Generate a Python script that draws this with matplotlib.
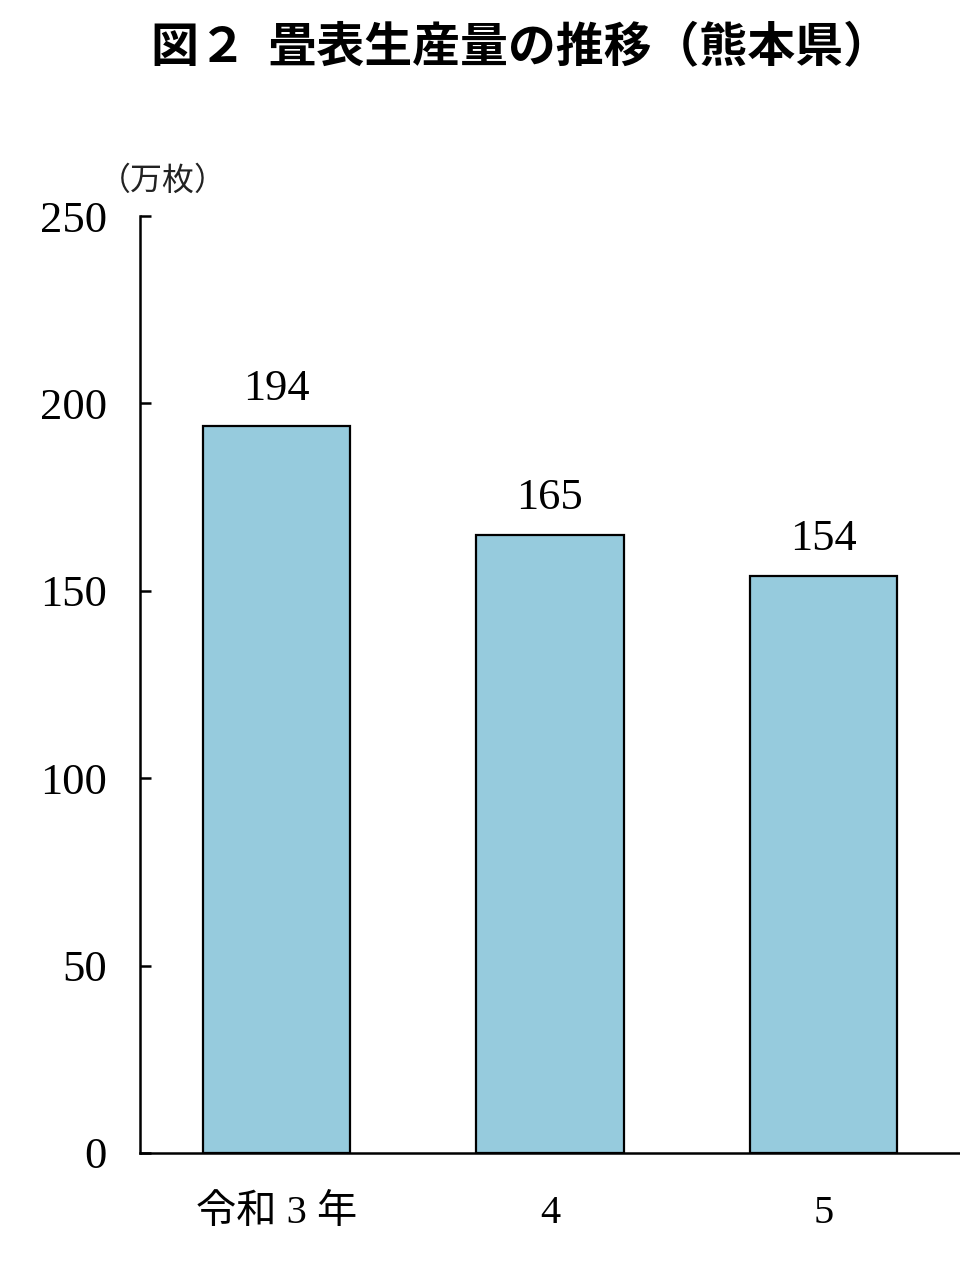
import matplotlib
matplotlib.use("Agg")
import matplotlib.pyplot as plt

# data
years = ["令和 3 年", "4", "5"]
output = [194, 165, 154]   # 万枚
yticks = [0, 50, 100, 150, 200, 250]

SERIF_JP = ["Liberation Serif", "Noto Sans CJK JP"]
SANS_JP = ["Noto Sans CJK JP", "DejaVu Sans"]
BAR_COLOR = "#96cbdd"

fig = plt.figure(figsize=(9.6, 12.78), dpi=100)
ax = fig.add_axes([140 / 960, 125 / 1278, 820 / 960, 937 / 1278])

x = list(range(len(years)))
ax.bar(x, output, width=0.54, color=BAR_COLOR, edgecolor="black", lw=1.6, zorder=3)

for xi, v in zip(x, output):
    ax.annotate(f"{v}", (xi, v), textcoords="offset points", xytext=(0, 12),
                ha="center", va="bottom", fontsize=32, family=SERIF_JP)

ax.set_xlim(-0.5, 2.5)
ax.set_ylim(0, 250)
ax.set_yticks(yticks)
ax.set_yticklabels([str(t) for t in yticks], fontsize=32, family=SERIF_JP)
ax.set_xticks(x)
ax.set_xticklabels(years, fontsize=29, family=SERIF_JP)

ax.tick_params(axis="y", direction="in", length=8, width=1.8, pad=24)
ax.tick_params(axis="x", length=0, pad=30)

for side in ("top", "right"):
    ax.spines[side].set_visible(False)
for side in ("left", "bottom"):
    ax.spines[side].set_linewidth(1.8)

# unit label
fig.text(163 / 960, 1 - 181 / 1278, "（万枚）", ha="center", va="center",
         fontsize=23, family=SANS_JP, color="#222")

# title
fig.text(521 / 960, 1 - 48 / 1278, "図２  畳表生産量の推移（熊本県）", ha="center", va="center",
         fontsize=34.5, fontweight="bold", family=SANS_JP)

fig.savefig("out.png", dpi=100)
